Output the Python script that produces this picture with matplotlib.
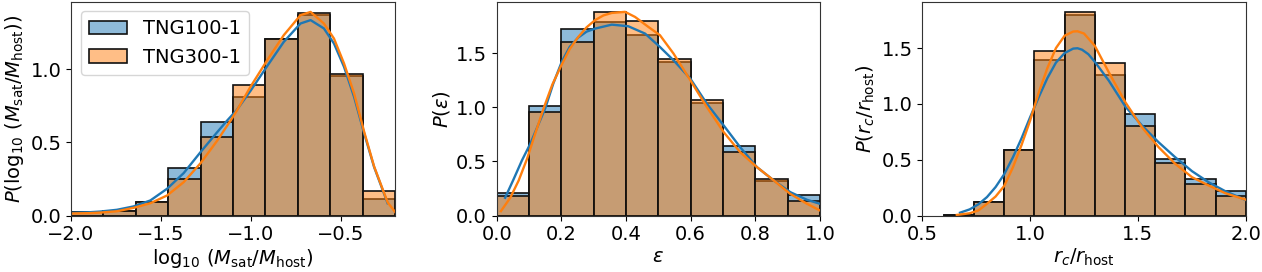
import numpy as np
import matplotlib
matplotlib.use("Agg")
import matplotlib.pyplot as plt
from matplotlib.patches import Patch
from matplotlib.colors import to_rgba

# ---------------- data ----------------
series_names = ["TNG100-1", "TNG300-1"]

# panel 1: log10(Msat/Mhost)
mass_edges = [-2.0, -1.82, -1.64, -1.46, -1.28, -1.10, -0.92, -0.74, -0.56, -0.38, -0.20]
mass_tng100 = [0.023, 0.034, 0.091, 0.326, 0.639, 0.81, 1.21, 1.37, 0.955, 0.114]
mass_tng300 = [0.023, 0.034, 0.091, 0.251, 0.536, 0.89, 1.205, 1.386, 0.966, 0.167]
mass_kde_x100 = [-2.0, -1.90, -1.838, -1.745, -1.653, -1.559, -1.466, -1.374, -1.28, -1.187,
                 -1.132, -1.08, -1.003, -0.911, -0.818, -0.725, -0.669, -0.595, -0.539, -0.483,
                 -0.427, -0.371, -0.316, -0.241]
mass_kde_y100 = [0.018, 0.022, 0.027, 0.039, 0.062, 0.103, 0.183, 0.29, 0.434, 0.571,
                 0.65, 0.72, 0.852, 1.02, 1.187, 1.313, 1.336, 1.279, 1.176, 1.016,
                 0.81, 0.56, 0.331, 0.084]
mass_kde_x300 = [-2.0, -1.90, -1.838, -1.745, -1.653, -1.559, -1.466, -1.374, -1.28, -1.187,
                 -1.113, -1.08, -1.003, -0.911, -0.818, -0.725, -0.669, -0.595, -0.539, -0.483,
                 -0.427, -0.371, -0.316, -0.241, -0.199]
mass_kde_y300 = [0.014, 0.016, 0.02, 0.029, 0.052, 0.084, 0.137, 0.228, 0.358, 0.513,
                 0.65, 0.715, 0.88, 1.06, 1.233, 1.37, 1.392, 1.313, 1.21, 1.039,
                 0.833, 0.571, 0.335, 0.09, 0.023]

# panel 2: eccentricity
ecc_edges = [0.0, 0.1, 0.2, 0.3, 0.4, 0.5, 0.6, 0.7, 0.8, 0.9, 1.0]
ecc_tng100 = [0.207, 1.015, 1.722, 1.787, 1.67, 1.42, 1.04, 0.639, 0.318, 0.185]
ecc_tng300 = [0.176, 0.96, 1.605, 1.883, 1.80, 1.451, 1.065, 0.586, 0.34, 0.13]
ecc_kde_x100 = [0.026, 0.053, 0.078, 0.104, 0.13, 0.15, 0.175, 0.201, 0.226, 0.252, 0.278,
                0.304, 0.356, 0.407, 0.459, 0.505, 0.547, 0.599, 0.65, 0.702, 0.753,
                0.805, 0.857, 0.908, 0.96, 1.0]
ecc_kde_y100 = [0.164, 0.34, 0.509, 0.664, 0.849, 0.99, 1.22, 1.42, 1.56, 1.645, 1.70,
                1.728, 1.765, 1.75, 1.682, 1.558, 1.435, 1.265, 1.034, 0.833, 0.632,
                0.447, 0.324, 0.216, 0.145, 0.108]
ecc_kde_x300 = [0.013, 0.042, 0.068, 0.094, 0.119, 0.145, 0.172, 0.2, 0.226, 0.252, 0.278,
                0.304, 0.33, 0.356, 0.397, 0.428, 0.469, 0.505, 0.547, 0.599, 0.65, 0.702,
                0.753, 0.805, 0.857, 0.908, 0.96, 1.0]
ecc_kde_y300 = [0.04, 0.164, 0.324, 0.525, 0.756, 0.99, 1.21, 1.389, 1.54, 1.65, 1.74,
                1.806, 1.85, 1.873, 1.883, 1.836, 1.744, 1.667, 1.497, 1.25, 1.003, 0.771,
                0.586, 0.447, 0.324, 0.2, 0.108, 0.046]

# panel 3: rc / rhost
rc_edges = [0.60, 0.74, 0.88, 1.02, 1.16, 1.30, 1.44, 1.58, 1.72, 1.86, 2.00]
rc_tng100 = [0.006, 0.125, 0.588, 1.397, 1.80, 1.262, 0.907, 0.504, 0.325, 0.218]
rc_tng300 = [0.006, 0.125, 0.588, 1.471, 1.824, 1.367, 0.80, 0.466, 0.284, 0.179]
rc_kde_x100 = [0.675, 0.72, 0.76, 0.80, 0.84, 0.88, 0.92, 0.96, 1.00, 1.04, 1.08, 1.12,
               1.16, 1.20, 1.22, 1.241, 1.27, 1.302, 1.365, 1.442, 1.519, 1.596, 1.673,
               1.751, 1.828, 1.905, 1.998]
rc_kde_y100 = [0.025, 0.055, 0.10, 0.165, 0.255, 0.37, 0.52, 0.69, 0.88, 1.06, 1.23, 1.37,
               1.455, 1.495, 1.498, 1.485, 1.445, 1.372, 1.208, 0.975, 0.806, 0.656, 0.522,
               0.397, 0.298, 0.218, 0.14]
rc_kde_x300 = [0.66, 0.72, 0.76, 0.80, 0.84, 0.88, 0.92, 0.96, 1.00, 1.04, 1.08, 1.12,
               1.16, 1.20, 1.22, 1.25, 1.30, 1.365, 1.442, 1.519, 1.596, 1.673,
               1.751, 1.828, 1.905, 1.998]
rc_kde_y300 = [0.005, 0.02, 0.045, 0.105, 0.17, 0.265, 0.43, 0.63, 0.85, 1.10, 1.32, 1.50,
               1.61, 1.648, 1.65, 1.63, 1.52, 1.283, 1.014, 0.79, 0.612, 0.463,
               0.343, 0.269, 0.2, 0.143]

# ---------------- styling ----------------
plt.rcParams["font.size"] = 14
plt.rcParams["mathtext.fontset"] = "dejavusans"
colors = ["#1f77b4", "#ff7f0e"]
edge_col = "#111111"

fig = plt.figure(figsize=(12.62, 2.72), dpi=100)
W, H = 1262.0, 272.0
boxes = [(71, 324), (496.7, 323.3), (922.3, 323.4)]
top_px, bot_px = 1.7, 215.5

panels = [
    dict(edges=mass_edges, h=[mass_tng100, mass_tng300],
         kx=[mass_kde_x100, mass_kde_x300], ky=[mass_kde_y100, mass_kde_y300],
         xlim=(-2.0, -0.2), ylim=(0, 1.462), xticks=[-2.0, -1.5, -1.0, -0.5],
         yticks=[0.0, 0.5, 1.0],
         xlabel=r"$\log_{10}\,(M_{\rm sat}/M_{\rm host})$",
         ylabel=r"$P(\log_{10}\,(M_{\rm sat}/M_{\rm host}))$"),
    dict(edges=ecc_edges, h=[ecc_tng100, ecc_tng300],
         kx=[ecc_kde_x100, ecc_kde_x300], ky=[ecc_kde_y100, ecc_kde_y300],
         xlim=(0.0, 1.0), ylim=(0, 1.977), xticks=[0.0, 0.2, 0.4, 0.6, 0.8, 1.0],
         yticks=[0.0, 0.5, 1.0, 1.5],
         xlabel=r"$\varepsilon$", ylabel=r"$P(\varepsilon)$"),
    dict(edges=rc_edges, h=[rc_tng100, rc_tng300],
         kx=[rc_kde_x100, rc_kde_x300], ky=[rc_kde_y100, rc_kde_y300],
         xlim=(0.5, 2.0), ylim=(0, 1.915), xticks=[0.5, 1.0, 1.5, 2.0],
         yticks=[0.0, 0.5, 1.0, 1.5],
         xlabel=r"$r_c/r_{\rm host}$", ylabel=r"$P(r_c/r_{\rm host})$"),
]

for idx, ((left, width), p) in enumerate(zip(boxes, panels)):
    ax = fig.add_axes([left / W, 1 - bot_px / H, width / W, (bot_px - top_px) / H])
    edges = np.array(p["edges"])
    widths = np.diff(edges)
    for i in range(2):
        ax.bar(edges[:-1], p["h"][i], width=widths, align="edge",
               facecolor=to_rgba(colors[i], 0.5), edgecolor=edge_col, linewidth=1.2)
    for i in range(2):
        ax.plot(p["kx"][i], p["ky"][i], color=colors[i], lw=1.7,
                solid_joinstyle="round")
    ax.set_xlim(*p["xlim"])
    ax.set_ylim(*p["ylim"])
    ax.set_xticks(p["xticks"])
    ax.set_yticks(p["yticks"])
    ax.set_xlabel(p["xlabel"], labelpad=2)
    ax.set_ylabel(p["ylabel"], labelpad=3)
    for s in ax.spines.values():
        s.set_color("#333333")
    if idx == 0:
        handles = [Patch(facecolor=to_rgba(colors[i], 0.5), edgecolor=edge_col, linewidth=1.2)
                   for i in range(2)]
        ax.legend(handles, series_names, loc="upper left")

fig.savefig("out.png", dpi=100)
